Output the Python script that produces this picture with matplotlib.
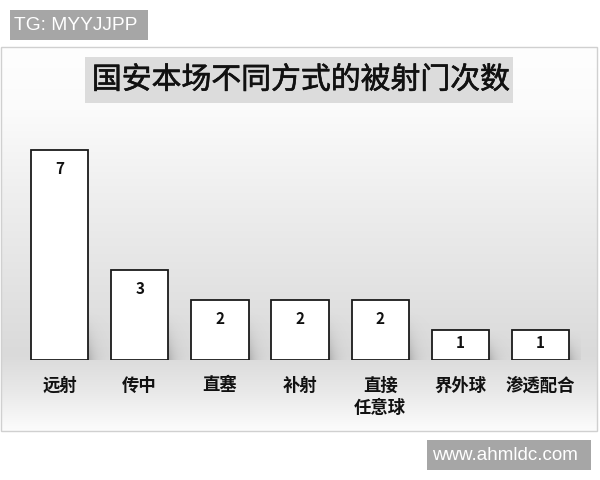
import numpy as np
import matplotlib
matplotlib.use("Agg")
import matplotlib.pyplot as plt
from matplotlib.patches import Rectangle
import matplotlib.patheffects as pe

plt.rcParams['font.family'] = ['Noto Sans CJK SC', 'DejaVu Sans']

# ---- data ----
categories = ['远射', '传中', '直塞', '补射', '直接\n任意球', '界外球', '渗透配合']
values = [7, 3, 2, 2, 2, 1, 1]
title = '国安本场不同方式的被射门次数'
watermark_top = 'TG: MYYJJPP'
watermark_bottom = 'www.ahmldc.com'

W, H = 600, 480
fig = plt.figure(figsize=(6, 4.8), dpi=100)
fig.patch.set_facecolor('white')

# overlay axes in pixel coordinates
ov = fig.add_axes([0, 0, 1, 1])
ov.set_xlim(0, W)
ov.set_ylim(H, 0)
ov.axis('off')

# background gradient of the chart frame
ys = np.array([47, 110, 200, 300, 355, 390, 431])
gs = np.array([254, 251, 238, 225, 218, 232, 252]) / 255.0
yy = np.linspace(47, 431, 400)
g = np.interp(yy, ys, gs)
img = np.repeat(g[:, None], 2, axis=1)
ov.imshow(np.dstack([img, img, img]), extent=[1, 597, 431, 47], aspect='auto',
          interpolation='bilinear', zorder=0)
ov.add_patch(Rectangle((1, 47), 596, 384, fill=False, ec='#d0d0d0', lw=1, zorder=1))

# title box
ov.add_patch(Rectangle((85, 57), 428, 46, fc='#dcdcdc', ec='none', zorder=2))
ov.text(301, 80, title, ha='center', va='center', fontsize=21.5, fontweight='normal',
        color='#111111', zorder=3,
        path_effects=[pe.withStroke(linewidth=0.45, foreground='#111111')])

# watermarks
ov.add_patch(Rectangle((10, 10), 138, 30, fc='#a6a6a6', ec='none', zorder=2))
ov.text(14, 25.5, watermark_top, ha='left', va='center', fontsize=13.8,
        family=['Liberation Sans', 'DejaVu Sans'], color='white', zorder=3)
ov.add_patch(Rectangle((427, 440), 164, 30, fc='#a6a6a6', ec='none', zorder=2))
ov.text(432, 455.5, watermark_bottom, ha='left', va='center', fontsize=13.5,
        family=['Liberation Sans', 'DejaVu Sans'], color='white', zorder=3)

# bar axes: x=-0.5 at px 19.4, spacing 80.2 px; baseline px 360, 30 px per unit
left_px = 19.4
step = 80.2
ax = fig.add_axes([left_px / W, (H - 360) / H, 7 * step / W, 240 / H])
ax.set_xlim(-0.5, 6.5)
ax.set_ylim(0, 8)
ax.patch.set_alpha(0)
ax.axis('off')

x = np.arange(len(categories))
bw = 0.715

# soft shadows to the right of each bar
for xi, v in zip(x, values):
    sh_h = min(v, 1.7)
    nx, ny = 40, 40
    gx = np.linspace(0, 1, nx)
    gy = np.linspace(0, 1, ny)
    ax_x = np.exp(-3.0 * gx)
    ax_y = np.clip(1 - gy, 0, 1) ** 1.5
    alpha = 0.45 * np.outer(ax_y, ax_x)
    rgba = np.zeros((ny, nx, 4))
    rgba[..., :3] = 0.45
    rgba[..., 3] = alpha
    x0 = xi + bw / 2
    ax.imshow(rgba, extent=[x0, x0 + 0.25, 0, sh_h], origin='lower',
              aspect='auto', interpolation='bilinear', zorder=1)

bars = ax.bar(x, values, width=bw, color='white', edgecolor='#1a1a1a',
              linewidth=1.3, zorder=2)
ax.set_xlim(-0.5, 6.5)
ax.set_ylim(0, 8)

for xi, v in zip(x, values):
    off = min(0.65, 0.43 * v)
    ax.text(xi, v - off, str(v), ha='center', va='center', fontsize=11,
            fontweight='bold', color='#111111', zorder=3)

for xi, c in zip(x, categories):
    ax.text(xi, -0.55, c, ha='center', va='top', fontsize=12.5, fontweight='bold',
            color='#111111', linespacing=1.3, zorder=3)

fig.savefig('out.png', dpi=100, facecolor='white')
